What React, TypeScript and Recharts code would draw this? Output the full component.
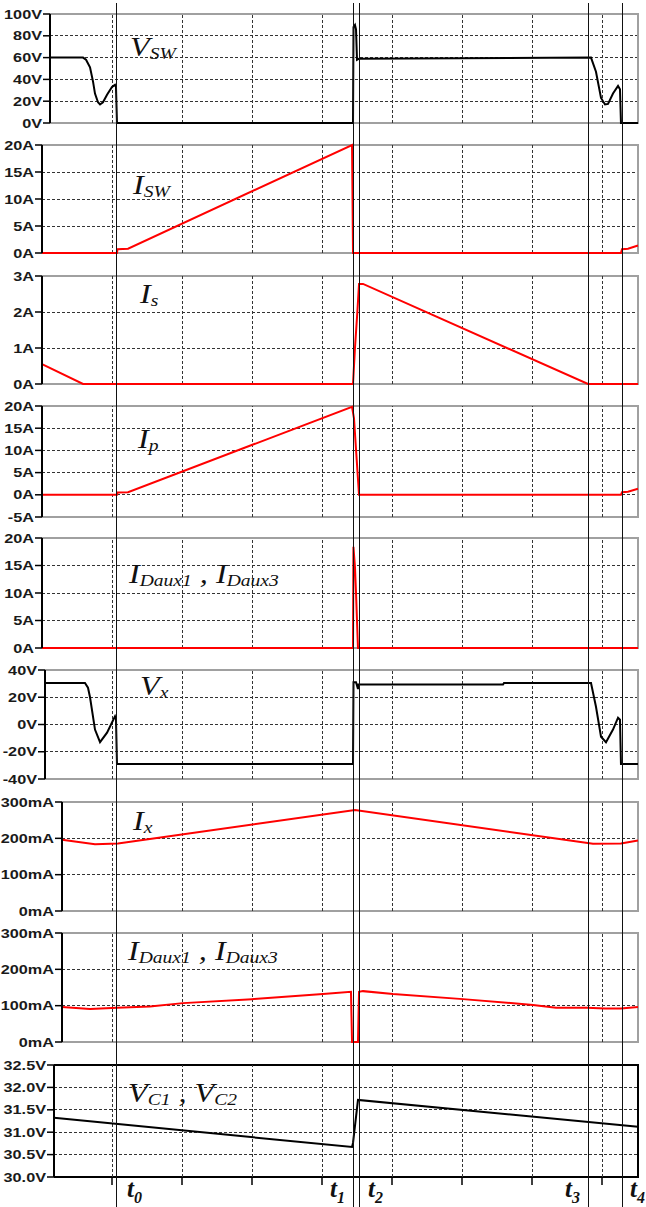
import React from 'react';
import {
  LineChart,
  Line,
  XAxis,
  YAxis,
  CartesianGrid,
  ReferenceArea,
  ReferenceLine,
  Customized,
} from 'recharts';

// time axis is in grid divisions, one division = one vertical grid line
const gridTimes = [1, 2, 3, 4, 5, 6, 7, 8];
const markerTimes = [1.071, 4.443, 4.529, 7.814, 8.286];
const markerNames = ['0', '1', '2', '3', '4'];

// V_SW
const vswTime = [0.115, 0.586, 0.629, 0.686, 0.729, 0.757, 0.8, 0.829, 0.871, 0.929, 1.0, 1.043, 1.057, 1.071, 4.443, 4.45, 4.471, 4.486, 4.5, 4.529, 7.843, 7.914, 7.986, 8.043, 8.086, 8.157, 8.229, 8.257, 8.271, 8.514];
const vswValue = [60, 60, 58, 51, 38, 27, 19, 17, 19, 26, 33, 35, 33, 0, 0, 88, 90, 86, 58, 59, 60, 47, 23, 17, 17.5, 27, 34, 31, 0, 0];
const vswTicks = [0, 20, 40, 60, 80, 100];

// I_SW
const iswTime = [0, 1.071, 1.079, 1.229, 4.429, 4.443, 8.271, 8.286, 8.371, 8.514];
const iswValue = [0, 0, 0.7, 0.8, 20, 0, 0, 0.7, 0.8, 1.4];
const iswTicks = [0, 5, 10, 15, 20];

// I_s
const isTime = [0, 0.586, 4.443, 4.471, 4.505, 4.529, 4.586, 7.8, 8.514];
const isValue = [0.55, 0, 0, 1.0, 2.0, 2.78, 2.78, 0, 0];
const isTicks = [0, 1, 2, 3];

// I_p
const ipTime = [0, 1.071, 1.079, 1.229, 4.429, 4.457, 4.486, 4.529, 8.271, 8.286, 8.371, 8.514];
const ipValue = [0, 0, 0.5, 0.6, 19.8, 17.2, 10.2, 0, 0, 0.6, 0.7, 1.35];
const ipTicks = [-5, 0, 5, 10, 15, 20];

// I_Daux1, I_Daux3 (A scale)
const idTime = [0, 4.443, 4.449, 4.471, 4.486, 4.514, 8.514];
const idValue = [0, 0, 18.4, 14.7, 10, 0, 0];
const idTicks = [0, 5, 10, 15, 20];

// V_x
const vxTime = [0.043, 0.614, 0.657, 0.686, 0.757, 0.829, 0.929, 1.0, 1.043, 1.057, 1.071, 4.443, 4.45, 4.486, 4.514, 4.521, 6.586, 6.6, 7.843, 7.914, 7.986, 8.057, 8.157, 8.229, 8.257, 8.271, 8.514];
const vxValue = [30.5, 30.5, 27, 20, -3.7, -13, -6, 1.5, 6, 4, -29, -29, 31, 31, 26, 29.3, 29.3, 30.5, 30.5, 13, -9, -13, -3.7, 5, 3.5, -29, -29];
const vxTicks = [-40, -20, 0, 20, 40];

// I_x
const ixTime = [0.286, 0.757, 1.086, 4.471, 7.871, 8.271, 8.514];
const ixValue = [196, 184, 186, 278, 185, 186, 194];
const ixTicks = [0, 100, 200, 300];

// I_Daux1, I_Daux3 (mA scale)
const idmTime = [0.286, 0.686, 1.071, 1.543, 2.014, 3.0, 4.014, 4.414, 4.429, 4.514, 4.529, 4.586, 5.014, 6.014, 7.014, 7.343, 7.786, 8.043, 8.271, 8.514];
const idmValue = [96, 91, 94, 98, 107, 118, 132, 138, 0, 0, 138, 140, 132, 118, 102, 94, 94, 92, 92, 96];
const idmTicks = [0, 100, 200, 300];

// V_C1, V_C2
const vcTime = [0.172, 4.429, 4.443, 4.514, 8.514];
const vcValue = [31.32, 30.67, 30.76, 31.72, 31.12];
const vcTicks = [30, 30.5, 31, 31.5, 32, 32.5];

const W = 646;
const H = 1207;
const ORIGIN_X = 42;
const DIV_PX = 70;
const PLOT_RIGHT = 638;
const T_END = (PLOT_RIGHT - ORIGIN_X) / DIV_PX;
const TIME_TICK_PX = 8;

const serif = "'Liberation Serif', 'Times New Roman', serif";
const sans = "'Liberation Sans', Arial, sans-serif";

const TickLabel = (props: any) => {
  const { x, y, payload, fmt } = props;
  return (
    <g transform={`translate(${x},${y})`}>
      <text
        transform="scale(1.3,1)"
        textAnchor="end"
        dy="0.36em"
        fontFamily={sans}
        fontWeight="bold"
        fontSize={12.5}
        fill="#1a1a1a"
      >
        {fmt(payload.value)}
      </text>
    </g>
  );
};

const frameShape = (color: string) => (p: any) => (
  <path
    d={`M${p.x},${p.y + p.height}H${p.x + p.width}V${p.y}H${p.x}`}
    fill="none"
    stroke={color}
    strokeWidth={2}
  />
);

type PanelProps = {
  top: number;
  bottom: number;
  left: number;
  time: number[];
  values: number[];
  ticks: number[];
  fmt: (v: number) => string;
  color: string;
  frame?: string;
  timeTicks?: boolean;
};

const Panel = ({ top, bottom, left, time, values, ticks, fmt, color, frame = '#a0a0a0', timeTicks = false }: PanelProps) => {
  const data = time.map((t, i) => ({ t, v: values[i] }));
  const pad = 12;
  const tStart = (left - ORIGIN_X) / DIV_PX;
  const yDomain: [number, number] = [ticks[0], ticks[ticks.length - 1]];
  // value span of a short tick mark below the bottom edge
  const tickDrop = ((yDomain[1] - yDomain[0]) / (bottom - top)) * TIME_TICK_PX;
  return (
    <div style={{ position: 'absolute', left: 0, top: top - pad }}>
      <LineChart
        width={W}
        height={bottom - top + pad * 2}
        data={data}
        margin={{ top: pad, right: W - PLOT_RIGHT, bottom: pad, left: 0 }}
      >
        <CartesianGrid stroke="#333" strokeDasharray="3 2" vertical={false} shapeRendering="crispEdges" />
        <XAxis dataKey="t" type="number" domain={[tStart, T_END]} ticks={gridTimes} hide height={0} />
        <YAxis
          type="number"
          domain={yDomain}
          ticks={ticks}
          interval={0}
          width={left}
          axisLine={{ stroke: '#000', strokeWidth: 2 }}
          tickLine={{ stroke: '#000', strokeWidth: 1.5 }}
          tickSize={7}
          tickMargin={1}
          tick={(p: any) => <TickLabel {...p} fmt={fmt} />}
        />
        {gridTimes.map((g) => (
          <ReferenceLine key={g} x={g} stroke="#333" strokeDasharray="3 2" shapeRendering="crispEdges" />
        ))}
        {timeTicks &&
          gridTimes.map((g) => (
            <ReferenceLine
              key={`tk${g}`}
              segment={[{ x: g, y: yDomain[0] }, { x: g, y: yDomain[0] - tickDrop }]}
              stroke="#000"
              strokeWidth={1.5}
              ifOverflow="visible"
            />
          ))}
        <ReferenceArea
          x1={tStart}
          x2={T_END}
          y1={yDomain[0]}
          y2={yDomain[1]}
          shape={frameShape(frame)}
        />
        <Line
          type="linear"
          dataKey="v"
          stroke={color}
          strokeWidth={2}
          dot={false}
          isAnimationActive={false}
        />
      </LineChart>
    </div>
  );
};

// panel titles: [main letter, subscript] pairs
const titles: { x: number; y: number; parts: [string, string][] }[] = [
  { x: 130, y: 56, parts: [['V', 'SW']] },
  { x: 133, y: 194, parts: [['I', 'SW']] },
  { x: 140, y: 303, parts: [['I', 's']] },
  { x: 138, y: 448, parts: [['I', 'p']] },
  { x: 129, y: 583, parts: [['I', 'Daux1'], ['I', 'Daux3']] },
  { x: 140, y: 695, parts: [['V', 'x']] },
  { x: 133, y: 830, parts: [['I', 'x']] },
  { x: 128, y: 960, parts: [['I', 'Daux1'], ['I', 'Daux3']] },
  { x: 128, y: 1102, parts: [['V', 'C1'], ['V', 'C2']] },
];

const Titles = () => (
  <g>
    {titles.map((tt, k) => (
      <g key={k} transform={`translate(${tt.x},${tt.y}) scale(1.15,1)`}>
        <text x={0} y={0} fontFamily={serif} fontStyle="italic" fontSize={28} fill="#111" style={{ whiteSpace: 'pre' }}>
          {tt.parts.flatMap(([m, s], i) => [
            <tspan key={`m${i}`} dy={i ? -3 : 0}>{(i ? ' , ' : '') + m}</tspan>,
            <tspan key={`s${i}`} fontSize={17} dy={3}>{s}</tspan>,
          ])}
        </text>
      </g>
    ))}
  </g>
);

const markerOffsets = [10, -23, 9, -24, 8];

const markerLabel = (i: number) => (props: any) => {
  const vb = props.viewBox || {};
  return (
    <text
      x={vb.x + markerOffsets[i]}
      y={1197}
      fontFamily={serif}
      fontStyle="italic"
      fontWeight="bold"
      fontSize={25}
      fill="#111"
    >
      <tspan>t</tspan>
      <tspan fontSize={16} dy={6}>{markerNames[i]}</tspan>
    </text>
  );
};

const App = () => {
  const markerData = markerTimes.map((t) => ({ t, y: 0.5 }));
  return (
    <div style={{ position: 'absolute', left: 0, top: 0, width: W, height: H, background: '#fff' }}>
      <Panel top={14} bottom={123} left={50} time={vswTime} values={vswValue} ticks={vswTicks} fmt={(v) => `${v}V`} color="#000" />
      <Panel top={145} bottom={253} left={42} time={iswTime} values={iswValue} ticks={iswTicks} fmt={(v) => `${v}A`} color="#ff0000" />
      <Panel top={276} bottom={384} left={42} time={isTime} values={isValue} ticks={isTicks} fmt={(v) => `${v}A`} color="#ff0000" />
      <Panel top={406} bottom={517} left={42} time={ipTime} values={ipValue} ticks={ipTicks} fmt={(v) => `${v}A`} color="#ff0000" />
      <Panel top={538} bottom={648} left={42} time={idTime} values={idValue} ticks={idTicks} fmt={(v) => `${v}A`} color="#ff0000" />
      <Panel top={670} bottom={779} left={45} time={vxTime} values={vxValue} ticks={vxTicks} fmt={(v) => `${v}V`} color="#000" />
      <Panel top={802} bottom={911} left={62} time={ixTime} values={ixValue} ticks={ixTicks} fmt={(v) => `${v}mA`} color="#ff0000" />
      <Panel top={933} bottom={1042} left={62} time={idmTime} values={idmValue} ticks={idmTicks} fmt={(v) => `${v}mA`} color="#ff0000" />
      <Panel top={1065} bottom={1177} left={54} time={vcTime} values={vcValue} ticks={vcTicks} fmt={(v) => `${v.toFixed(1)}V`} color="#000" frame="#000" timeTicks />
      <div style={{ position: 'absolute', left: 0, top: 0, pointerEvents: 'none' }}>
        <LineChart width={W} height={H} data={markerData} margin={{ top: 3, right: 0, bottom: 0, left: 0 }}>
          <XAxis dataKey="t" type="number" domain={[-ORIGIN_X / DIV_PX, (W - ORIGIN_X) / DIV_PX]} allowDataOverflow hide height={0} />
          <YAxis type="number" domain={[0, 1]} allowDataOverflow hide width={0} />
          <Line dataKey="y" stroke="none" dot={false} isAnimationActive={false} />
          {markerTimes.map((t, i) => (
            <ReferenceLine key={i} x={t} stroke="#111" strokeWidth={1} shapeRendering="crispEdges" ifOverflow="visible" label={markerLabel(i)} />
          ))}
          <Customized component={Titles} />
        </LineChart>
      </div>
    </div>
  );
};

export default App;
